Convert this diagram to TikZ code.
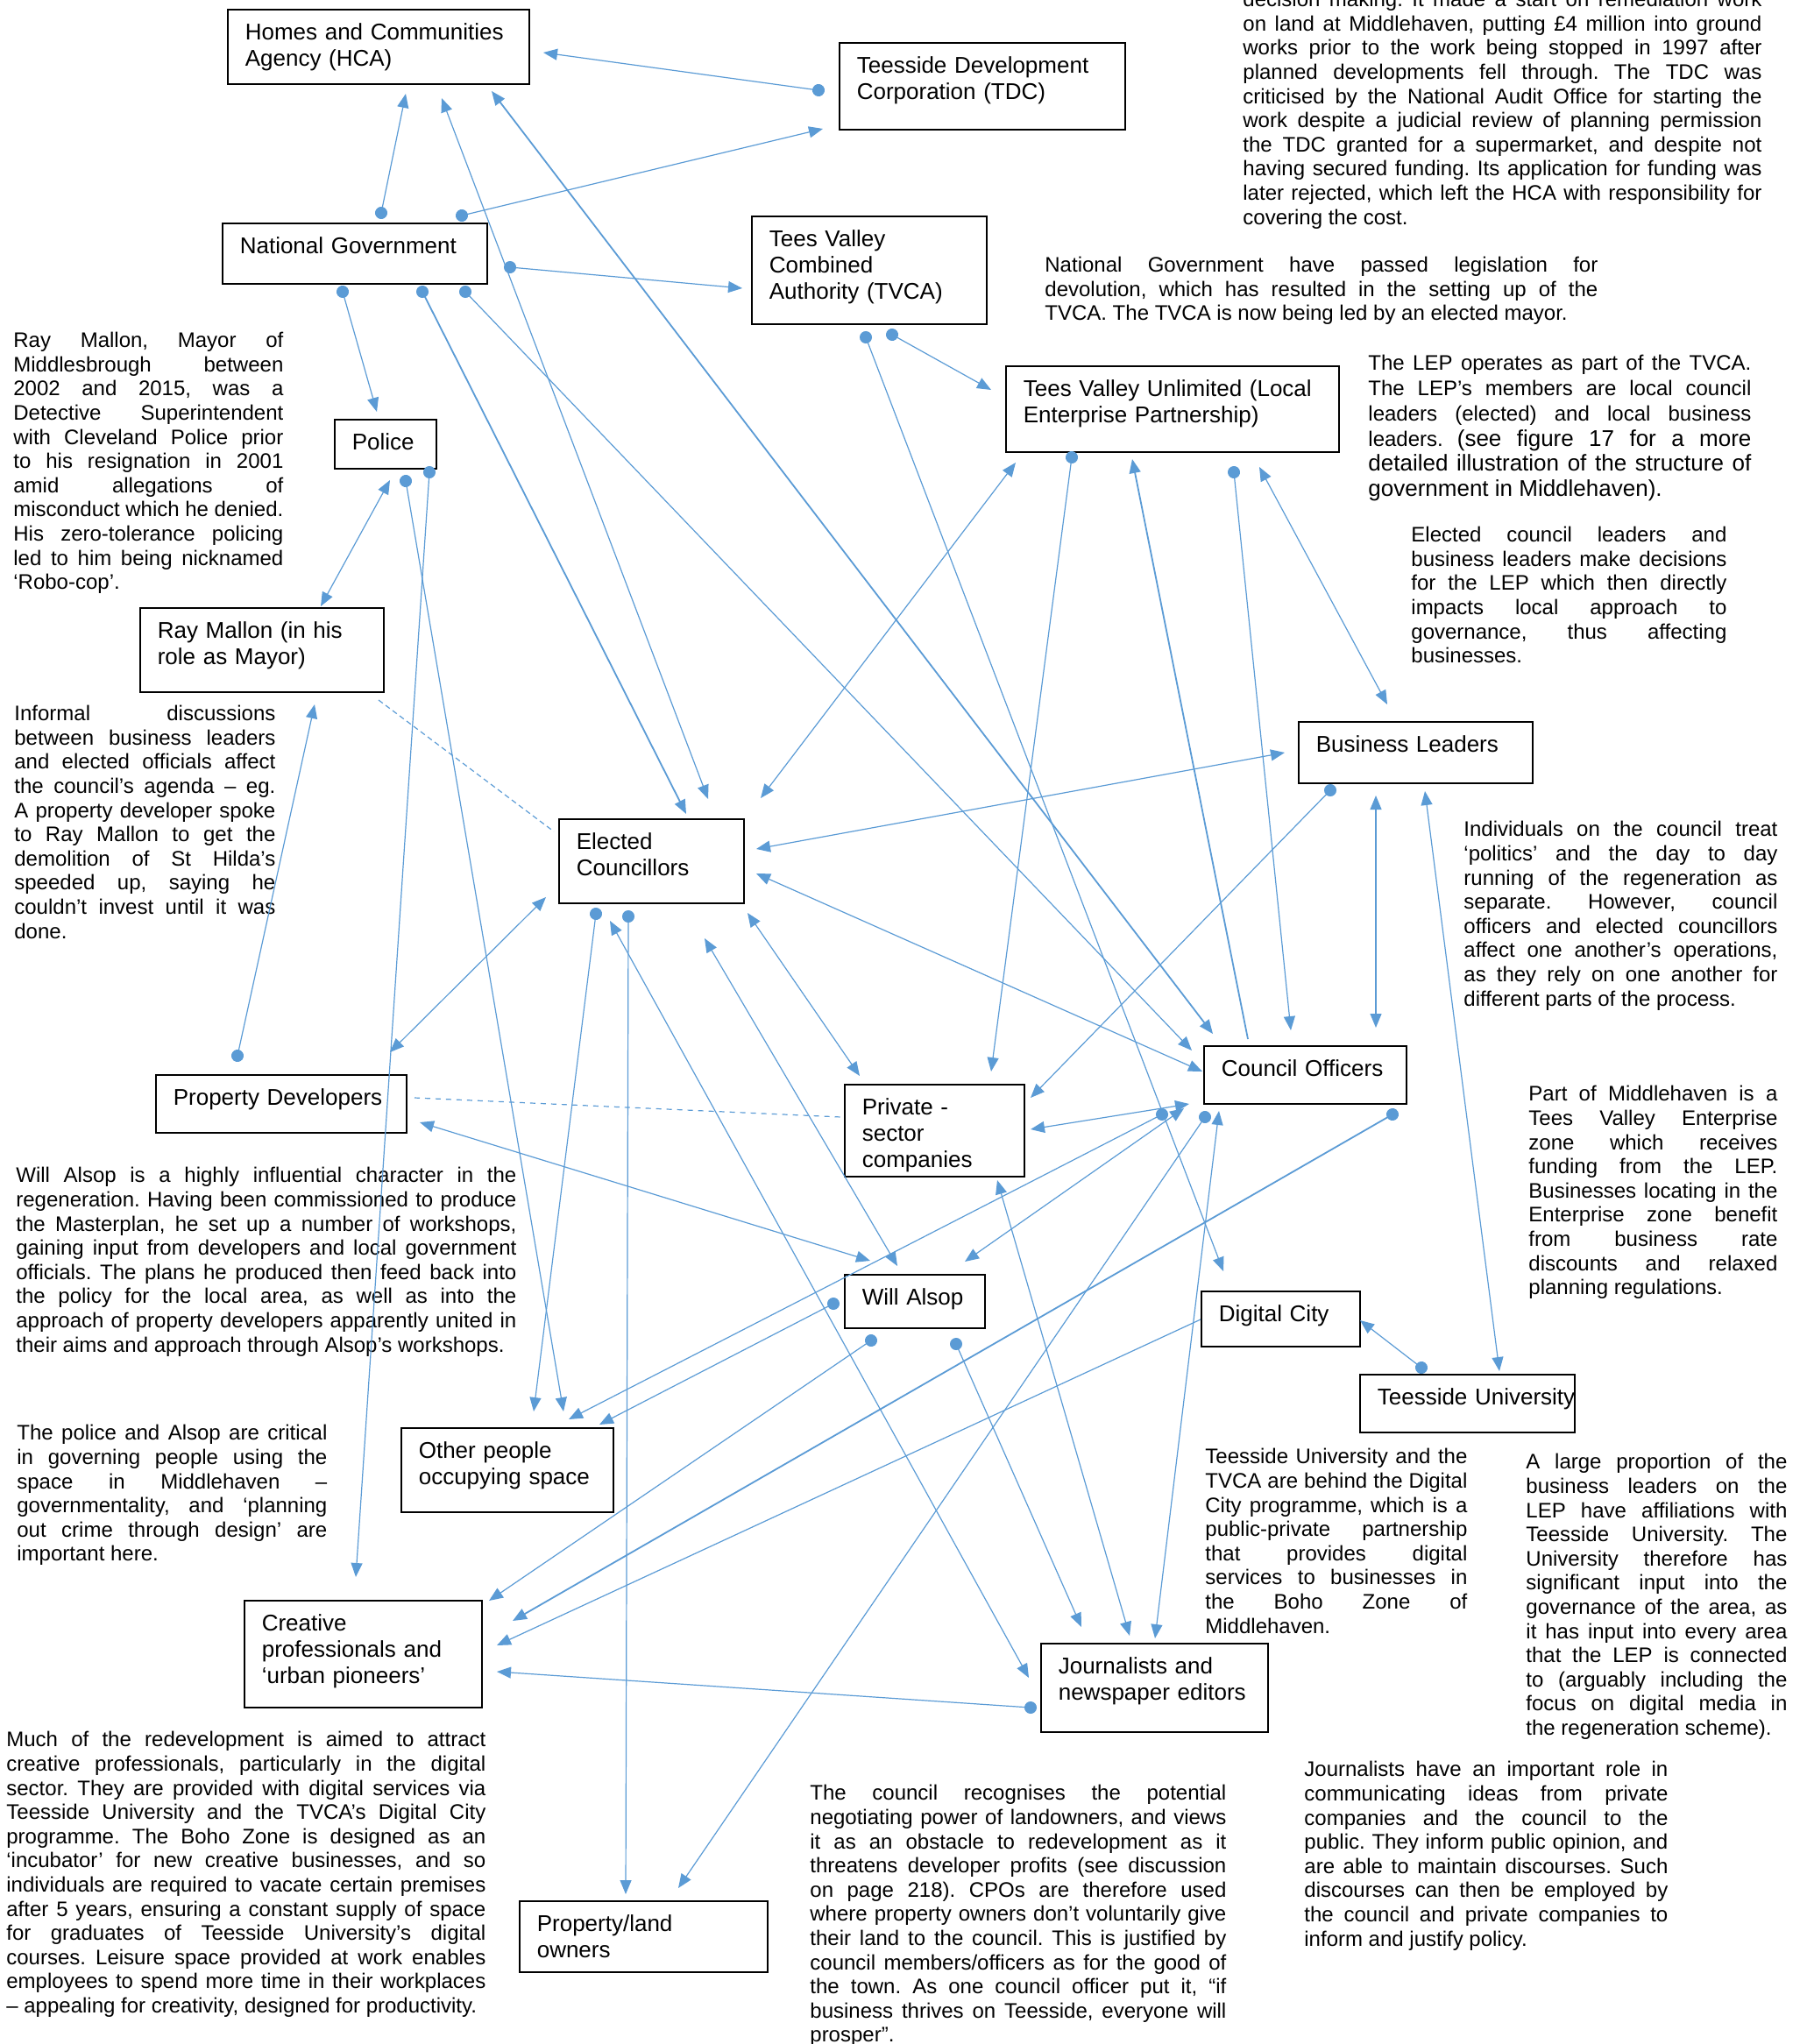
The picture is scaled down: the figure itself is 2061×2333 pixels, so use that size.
\documentclass[tikz,border=0pt]{standalone}
\usepackage{fontspec}
\setmainfont{Liberation Sans}
\usetikzlibrary{arrows.meta}
\definecolor{linkblue}{HTML}{5B9BD5}
\frenchspacing
\tolerance=10000
\hbadness=10000
\hfuzz=20pt
\hyphenpenalty=10000
\exhyphenpenalty=10000

\tikzset{
  box/.style={draw, line width=0.8pt, anchor=north west, inner xsep=10pt, inner ysep=8pt, text height=9.5pt, align=left, font=\fontsize{13}{15}\selectfont},
  note/.style={anchor=north west, inner sep=0pt, text width=#1, align=justify, font=\fontsize{12}{13.8}\selectfont},
  link/.style={linkblue, line width=0.6pt, shorten <=-3.5pt, arrows={Circle[length=7pt]-Triangle[length=8pt,width=6.5pt]}},
  twoway/.style={linkblue, line width=0.6pt, arrows={Triangle[length=8pt,width=6.5pt]-Triangle[length=8pt,width=6.5pt]}},
  oneway/.style={linkblue, line width=0.6pt, arrows={-Triangle[length=8pt,width=6.5pt]}},
  loose/.style={linkblue, line width=0.6pt, dashed},
  heavy/.style={line width=0.9pt},
}

\begin{document}
\begin{tikzpicture}[x=0.5pt,y=-0.5pt]
\useasboundingbox (0,0) rectangle (2061,2333);

\node[box, text width=152pt, text depth=17pt] (hca) at (259,10) {Homes and Communities\\Agency (HCA)};
\node[box, text width=143pt, text depth=24pt] (tdc) at (957,48) {Teesside Development\\Corporation (TDC)};
\node[box, text width=131pt, text depth=9pt] (ng) at (253,254) {National Government};
\node[box, text width=114pt, text depth=36pt] (tvca) at (857,246) {Tees Valley\\Combined\\Authority (TVCA)};
\node[box, text width=170pt, text depth=23.5pt] (lep) at (1147,417) {Tees Valley Unlimited (Local\\Enterprise Partnership)};
\node[box, text width=38pt, text depth=2.5pt] (police) at (381,478) {Police};
\node[box, text width=119pt, text depth=22.5pt] (mallon) at (159,693) {Ray Mallon (in his\\role as Mayor)};
\node[box, text width=113.5pt, text depth=9.5pt] (leaders) at (1481,823) {Business Leaders};
\node[box, text width=85.5pt, text depth=22.5pt] (elected) at (637,934) {Elected\\Councillors};
\node[box, text width=95.5pt, text depth=7.5pt] (officers) at (1373,1193) {Council Officers};
\node[box, text width=123pt, text depth=7.5pt] (developers) at (177,1226) {Property Developers};
\node[box, text width=82.5pt, text depth=27pt] (private) at (963,1237) {Private -\\sector\\companies};
\node[box, text width=60pt, text depth=5pt] (alsop) at (963,1454) {Will Alsop};
\node[box, text width=70.5pt, text depth=6pt] (digital) at (1370,1473) {Digital City};
\node[box, text width=102.5pt, text depth=7.5pt] (uni) at (1551,1568) {\mbox{Teesside University}};
\node[box, text width=101pt, text depth=22.5pt] (others) at (457,1629) {Other people\\occupying space};
\node[box, text width=115.5pt, text depth=35.5pt] (creative) at (278,1826) {Creative\\professionals and\\‘urban pioneers’};
\node[box, text width=109.5pt, text depth=25pt] (press) at (1187,1875) {Journalists and\\newspaper editors};
\node[box, text width=121.5pt, text depth=15pt] (owners) at (592,2169) {Property/land\\owners};

\node[note=296pt] (tdctext) at (1418,-10) {decision making. It made a start on remediation work\linebreak
on land at Middlehaven, putting £4 million into ground\linebreak
works prior to the work being stopped in 1997 after\linebreak
planned developments fell through. The TDC was\linebreak
criticised by the National Audit Office for starting the\linebreak
work despite a judicial review of planning permission\linebreak
the TDC granted for a supermarket, and despite not\linebreak
having secured funding. Its application for funding was\linebreak
later rejected, which left the HCA with responsibility for\linebreak
covering the cost.};
\node[note=315.5pt] (ngtext) at (1192,293) {National Government have passed legislation for\linebreak
devolution, which has resulted in the setting up of the\linebreak
TVCA. The TVCA is now being led by an elected mayor.};
\node[note=218.5pt, font=\fontsize{12}{14.4}\selectfont] (leptext) at (1561,405) {The LEP operates as part of the TVCA.\linebreak
The LEP’s members are local council\linebreak
leaders (elected) and local business\linebreak
leaders. {\fontsize{13}{14.4}\selectfont (see figure 17 for a more\linebreak
detailed illustration of the structure of\linebreak
government in Middlehaven).}};
\node[note=180pt] (leadtext) at (1610,601) {Elected council leaders and\linebreak
business leaders make decisions\linebreak
for the LEP which then directly\linebreak
impacts local approach to\linebreak
governance, thus affecting\linebreak
businesses.};
\node[note=154pt] (mallontext) at (15,379) {Ray Mallon, Mayor of\linebreak
Middlesbrough between\linebreak
2002 and 2015, was a\linebreak
Detective Superintendent\linebreak
with Cleveland Police prior\linebreak
to his resignation in 2001\linebreak
amid allegations of\linebreak
misconduct which he denied.\linebreak
His zero-tolerance policing\linebreak
led to him being nicknamed\linebreak
‘Robo-cop’.};
\node[note=149pt] (informaltext) at (16,805) {Informal discussions\linebreak
between business leaders\linebreak
and elected officials affect\linebreak
the council’s agenda – eg.\linebreak
A property developer spoke\linebreak
to Ray Mallon to get the\linebreak
demolition of St Hilda’s\linebreak
speeded up, saying he\linebreak
couldn’t invest until it was\linebreak
done.};
\node[note=285.5pt] (alsoptext) at (18,1332) {Will Alsop is a highly influential character in the\linebreak
regeneration. Having been commissioned to produce\linebreak
the Masterplan, he set up a number of workshops,\linebreak
gaining input from developers and local government\linebreak
officials. The plans he produced then feed back into\linebreak
the policy for the local area, as well as into the\linebreak
approach of property developers apparently united in\linebreak
their aims and approach through Alsop’s workshops.};
\node[note=177pt] (policetext) at (19,1626) {The police and Alsop are critical\linebreak
in governing people using the\linebreak
space in Middlehaven –\linebreak
governmentality, and ‘planning\linebreak
out crime through design’ are\linebreak
important here.};
\node[note=273.5pt] (creativetext) at (7,1976) {Much of the redevelopment is aimed to attract\linebreak
creative professionals, particularly in the digital\linebreak
sector. They are provided with digital services via\linebreak
Teesside University and the TVCA’s Digital City\linebreak
programme. The Boho Zone is designed as an\linebreak
‘incubator’ for new creative businesses, and so\linebreak
individuals are required to vacate certain premises\linebreak
after 5 years, ensuring a constant supply of space\linebreak
for graduates of Teesside University’s digital\linebreak
courses. Leisure space provided at work enables\linebreak
employees to spend more time in their workplaces\linebreak
– appealing for creativity, designed for productivity.};
\node[note=237.5pt] (ownerstext) at (924,2037) {The council recognises the potential\linebreak
negotiating power of landowners, and views\linebreak
it as an obstacle to redevelopment as it\linebreak
threatens developer profits (see discussion\linebreak
on page 218). CPOs are therefore used\linebreak
where property owners don’t voluntarily give\linebreak
their land to the council. This is justified by\linebreak
council members/officers as for the good of\linebreak
the town. As one council officer put it, “if\linebreak
business thrives on Teesside, everyone will\linebreak
prosper”.};
\node[note=207.5pt] (presstext) at (1488,2010) {Journalists have an important role in\linebreak
communicating ideas from private\linebreak
companies and the council to the\linebreak
public. They inform public opinion, and\linebreak
are able to maintain discourses. Such\linebreak
discourses can then be employed by\linebreak
the council and private companies to\linebreak
inform and justify policy.};
\begin{scope}
\clip (1360,1640) rectangle (1700,1866);
\node[note=149.5pt] (digitaltext) at (1375,1653) {Teesside University and the\linebreak
TVCA are behind the Digital\linebreak
City programme, which is a\linebreak
public-private partnership\linebreak
that provides digital\linebreak
services to businesses in\linebreak
the Boho Zone of\linebreak
Middlehaven.};
\end{scope}
\node[note=149pt] (unitext) at (1741,1659) {A large proportion of the\linebreak
business leaders on the\linebreak
LEP have affiliations with\linebreak
Teesside University. The\linebreak
University therefore has\linebreak
significant input into the\linebreak
governance of the area, as\linebreak
it has input into every area\linebreak
that the LEP is connected\linebreak
to (arguably including the\linebreak
focus on digital media in\linebreak
the regeneration scheme).};
\node[note=179pt] (officerstext) at (1670,937) {Individuals on the council treat\linebreak
‘politics’ and the day to day\linebreak
running of the regeneration as\linebreak
separate. However, council\linebreak
officers and elected councillors\linebreak
affect one another’s operations,\linebreak
as they rely on one another for\linebreak
different parts of the process.};
\node[note=142pt] (zonetext) at (1744,1239) {Part of Middlehaven is a\linebreak
Tees Valley Enterprise\linebreak
zone which receives\linebreak
funding from the LEP.\linebreak
Businesses locating in the\linebreak
Enterprise zone benefit\linebreak
from business rate\linebreak
discounts and relaxed\linebreak
planning regulations.};

\draw[link] ([shift={(-23,55)}]tdc.north west) -- ([shift={(361,50)}]hca.north west);
\draw[link] ([shift={(182,-11)}]ng.north west) -- ([shift={(204,97)}]hca.north west);
\draw[link] ([shift={(274,-8)}]ng.north west) -- ([shift={(-18,99)}]tdc.north west);
\draw[twoway] ([shift={(245,102)}]hca.north west) -- ([shift={(171,-22)}]elected.north west);
\draw[twoway, heavy] ([shift={(302,94)}]hca.north west) -- ([shift={(11,-13)}]officers.north west);
\draw[link] ([shift={(329,51)}]ng.north west) -- ([shift={(-10,83)}]tvca.north west);
\draw[link] ([shift={(138,79)}]ng.north west) -- ([shift={(49,-8)}]police.north west);
\draw[link, heavy] ([shift={(229,79)}]ng.north west) -- ([shift={(146,-5)}]elected.north west);
\draw[link] ([shift={(278,79)}]ng.north west) -- ([shift={(-13,6)}]officers.north west);
\draw[link] ([shift={(161,136)}]tvca.north west) -- ([shift={(-16,28)}]lep.north west);
\draw[link] ([shift={(131,139)}]tvca.north west) -- ([shift={(26,-22)}]digital.north west);
\draw[link] ([shift={(76,105)}]lep.north west) -- ([shift={(168,-14)}]private.north west);
\draw[twoway] ([shift={(12,111)}]lep.north west) -- ([shift={(231,-23)}]elected.north west);
\draw[oneway, heavy] ([shift={(51,-7)}]officers.north west) -- ([shift={(145,107)}]lep.north west);
\draw[link] ([shift={(261,122)}]lep.north west) -- ([shift={(100,-17)}]officers.north west);
\draw[twoway] ([shift={(290,116)}]lep.north west) -- ([shift={(102,-19)}]leaders.north west);
\draw[twoway] ([shift={(-15,36)}]leaders.north west) -- ([shift={(226,35)}]elected.north west);
\draw[link] ([shift={(37,79)}]leaders.north west) -- ([shift={(213,16)}]private.north west);
\draw[twoway] ([shift={(89,85)}]leaders.north west) -- ([shift={(197,-20)}]officers.north west);
\draw[twoway] ([shift={(145,80)}]leaders.north west) -- ([shift={(160,-3)}]uni.north west);
\draw[twoway] ([shift={(226,63)}]elected.north west) -- ([shift={(-1,30)}]officers.north west);
\draw[twoway] ([shift={(216,108)}]elected.north west) -- ([shift={(18,-9)}]private.north west);
\draw[link] ([shift={(43,109)}]elected.north west) -- ([shift={(152,-18)}]others.north west);
\draw[link] ([shift={(80,112)}]elected.north west) -- ([shift={(122,-7)}]owners.north west);
\draw[twoway] ([shift={(59,117)}]elected.north west) -- ([shift={(-13,40)}]press.north west);
\draw[twoway] ([shift={(167,137)}]elected.north west) -- ([shift={(61,-9)}]alsop.north west);
\draw[twoway] ([shift={(-14,90)}]elected.north west) -- ([shift={(268,-25)}]developers.north west);
\draw[twoway] ([shift={(64,70)}]police.north west) -- ([shift={(207,-1)}]mallon.north west);
\draw[link] ([shift={(82,71)}]police.north west) -- ([shift={(186,-18)}]others.north west);
\draw[link] ([shift={(109,61)}]police.north west) -- ([shift={(128,-26)}]creative.north west);
\draw[loose, dash pattern=on 3pt off 2pt] ([shift={(273,106)}]mallon.north west) -- ([shift={(-5,15)}]elected.north west);
\draw[link] ([shift={(94,-21)}]developers.north west) -- ([shift={(200,111)}]mallon.north west);
\draw[loose] ([shift={(296,27)}]developers.north west) -- ([shift={(-3,38)}]private.north west);
\draw[twoway] ([shift={(302,55)}]developers.north west) -- ([shift={(30,-15)}]alsop.north west);
\draw[twoway] ([shift={(-16,67)}]officers.north west) -- ([shift={(213,52)}]private.north west);
\draw[link] ([shift={(-47,79)}]officers.north west) -- ([shift={(192,-9)}]others.north west);
\draw[link] ([shift={(2,82)}]officers.north west) -- ([shift={(182,-14)}]owners.north west);
\draw[twoway] ([shift={(18,75)}]officers.north west) -- ([shift={(131,-5)}]press.north west);
\draw[twoway] ([shift={(138,-14)}]alsop.north west) -- ([shift={(-22,72)}]officers.north west);
\draw[link, heavy] ([shift={(216,79)}]officers.north west) -- ([shift={(307,24)}]creative.north west);
\draw[link] ([shift={(-12,34)}]alsop.north west) -- ([shift={(227,-3)}]others.north west);
\draw[link] ([shift={(31,76)}]alsop.north west) -- ([shift={(280,1)}]creative.north west);
\draw[link] ([shift={(128,80)}]alsop.north west) -- ([shift={(47,-18)}]press.north west);
\draw[twoway] ([shift={(175,110)}]private.north west) -- ([shift={(102,-8)}]press.north west);
\draw[oneway] ([shift={(0,33)}]digital.north west) -- ([shift={(289,52)}]creative.north west);
\draw[link] ([shift={(71,-7)}]uni.north west) -- ([shift={(182,34)}]digital.north west);
\draw[link] ([shift={(-11,74)}]press.north west) -- ([shift={(289,82)}]creative.north west);
\end{tikzpicture}
\end{document}
